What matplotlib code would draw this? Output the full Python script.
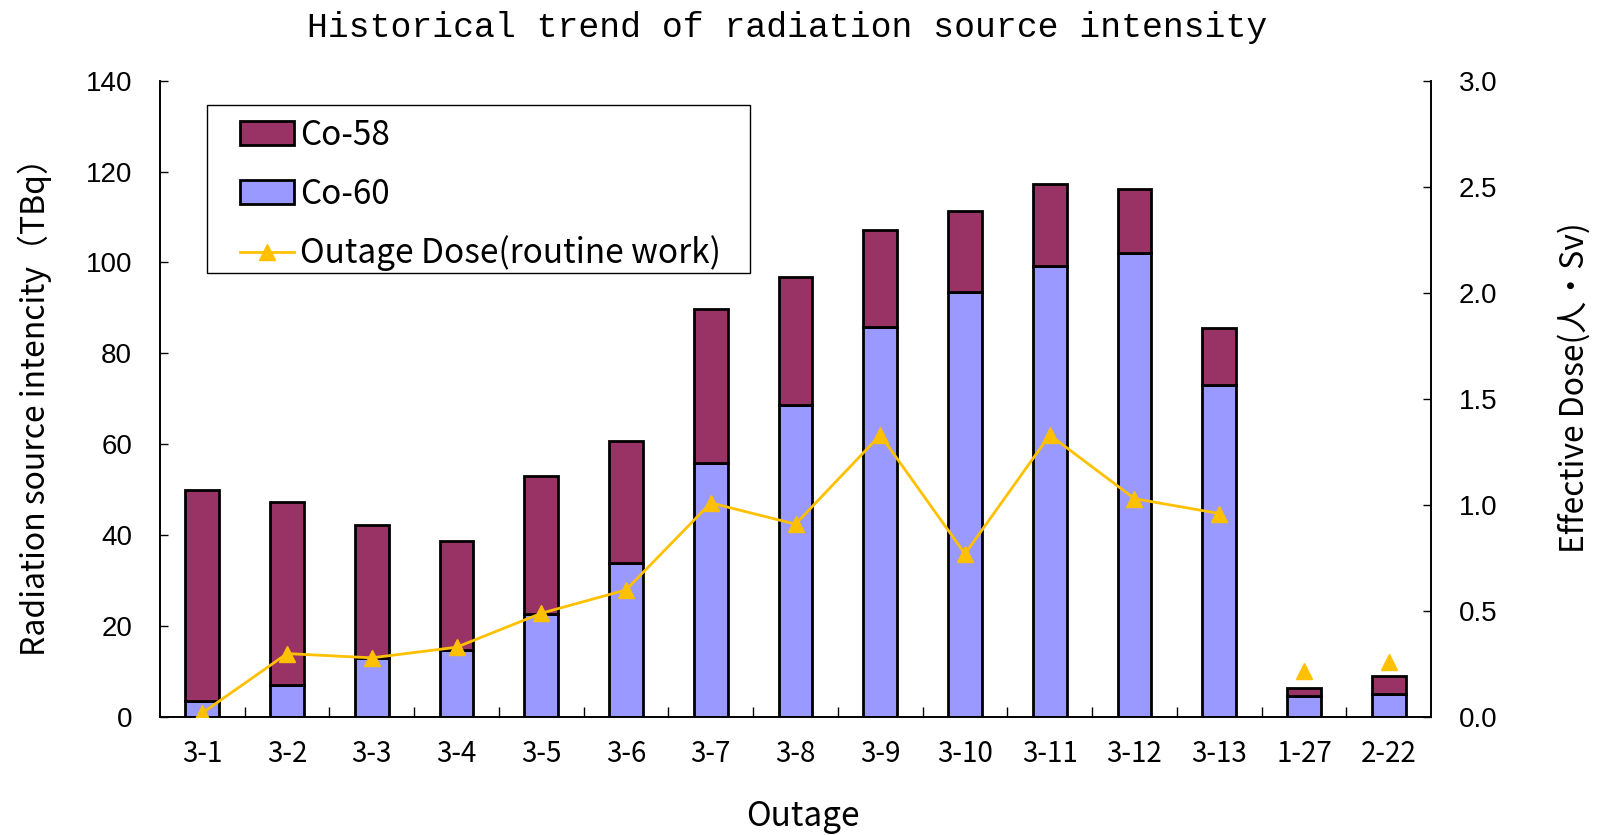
import matplotlib
matplotlib.use("Agg")
import matplotlib.pyplot as plt
from matplotlib.patches import Rectangle
import numpy as np

plt.rcParams['font.family'] = ['Noto Sans CJK JP', 'DejaVu Sans']

categories = ["3-1", "3-2", "3-3", "3-4", "3-5", "3-6", "3-7", "3-8", "3-9",
              "3-10", "3-11", "3-12", "3-13", "1-27", "2-22"]
co60 = [3.6, 7.2, 13.0, 14.8, 22.7, 33.9, 55.9, 68.7, 85.9, 93.6, 99.2, 102.1, 73.1, 4.7, 5.2]
total = [50.0, 47.3, 42.2, 38.8, 53.0, 60.8, 89.7, 96.7, 107.2, 111.3, 117.3, 116.2, 85.5, 6.5, 9.0]
co58 = [t - c for t, c in zip(total, co60)]
dose = [0.02, 0.30, 0.28, 0.33, 0.49, 0.60, 1.01, 0.91, 1.33, 0.77, 1.33, 1.03, 0.96, 0.22, 0.26]
n_connected = 13

fig = plt.figure(figsize=(15.99, 8.35), dpi=100)
ax = fig.add_axes([0.100, 0.141, 0.795, 0.7625])
ax2 = ax.twinx()

x = np.arange(len(categories))
w = 0.4
b60 = ax.bar(x, co60, w, color="#9999FF", edgecolor="black", linewidth=2, label="Co-60", zorder=2)
b58 = ax.bar(x, co58, w, bottom=co60, color="#993366", edgecolor="black", linewidth=2, label="Co-58", zorder=2)

ax.set_xlim(-0.5, len(categories) - 0.5)
ax.set_ylim(0, 140)
ax.set_yticks(np.arange(0, 141, 20))
ax.set_xticks(x)
ax.set_xticklabels(categories)
ax.set_xticks(np.arange(0.5, len(categories) - 0.5, 1), minor=True)
ax.tick_params(axis='x', which='major', length=0, pad=16, labelsize=20)
ax.tick_params(axis='x', which='minor', direction='in', length=7, width=1)
ax.tick_params(axis='y', direction='in', length=6, width=1, labelsize=20, pad=20)
for lab in ax.get_yticklabels():
    lab.set_family(['Liberation Sans'])

ax2.set_ylim(0, 3.0)
ax2.set_yticks(np.arange(0, 3.01, 0.5))
ax2.set_yticklabels([f"{v:.1f}" for v in np.arange(0, 3.01, 0.5)])
ax2.tick_params(axis='y', direction='in', length=6, width=1, labelsize=20, pad=20)
for lab in ax2.get_yticklabels():
    lab.set_family(['Liberation Sans'])

line, = ax2.plot(x[:n_connected], dose[:n_connected], color="#FFC000", linewidth=2,
                 marker="^", markersize=12, label="Outage Dose(routine work)", zorder=3)
ax2.plot(x[n_connected:], dose[n_connected:], color="#FFC000", linestyle="none",
         marker="^", markersize=12, zorder=3)

for a in (ax, ax2):
    a.spines['top'].set_visible(False)
    for s in ('left', 'right', 'bottom'):
        a.spines[s].set_linewidth(1.2)

ax.set_ylabel("Radiation source intencity（TBq）", fontsize=23)
ax.yaxis.set_label_coords(-0.085, 0.5)
ax2.set_ylabel("Effective Dose(人・Sv)", fontsize=23, rotation=90)
ax2.yaxis.set_label_coords(1.100, 0.518)
ax.set_xlabel("Outage", fontsize=24)
ax.xaxis.set_label_coords(0.506, -0.128)
fig.suptitle("Historical trend of radiation source intensity", fontsize=25,
             family=['Liberation Mono'], x=0.492, y=0.987)

# legend frame drawn separately to match box geometry
frame = Rectangle((0.0369, 0.697), 0.427, 0.2645, transform=ax2.transAxes,
                  facecolor="white", edgecolor="black", linewidth=1.0, zorder=9)
ax2.add_patch(frame)
leg = ax2.legend([b58, b60, line], ["Co-58", "Co-60", "Outage Dose(routine work)"],
                 loc="upper left", bbox_to_anchor=(0.0634, 0.942), borderaxespad=0,
                 fontsize=24, frameon=False, labelspacing=0.72, handlelength=1.6,
                 handletextpad=0.2, borderpad=0)
leg.set_zorder(10)

fig.savefig("out.png", dpi=100)
